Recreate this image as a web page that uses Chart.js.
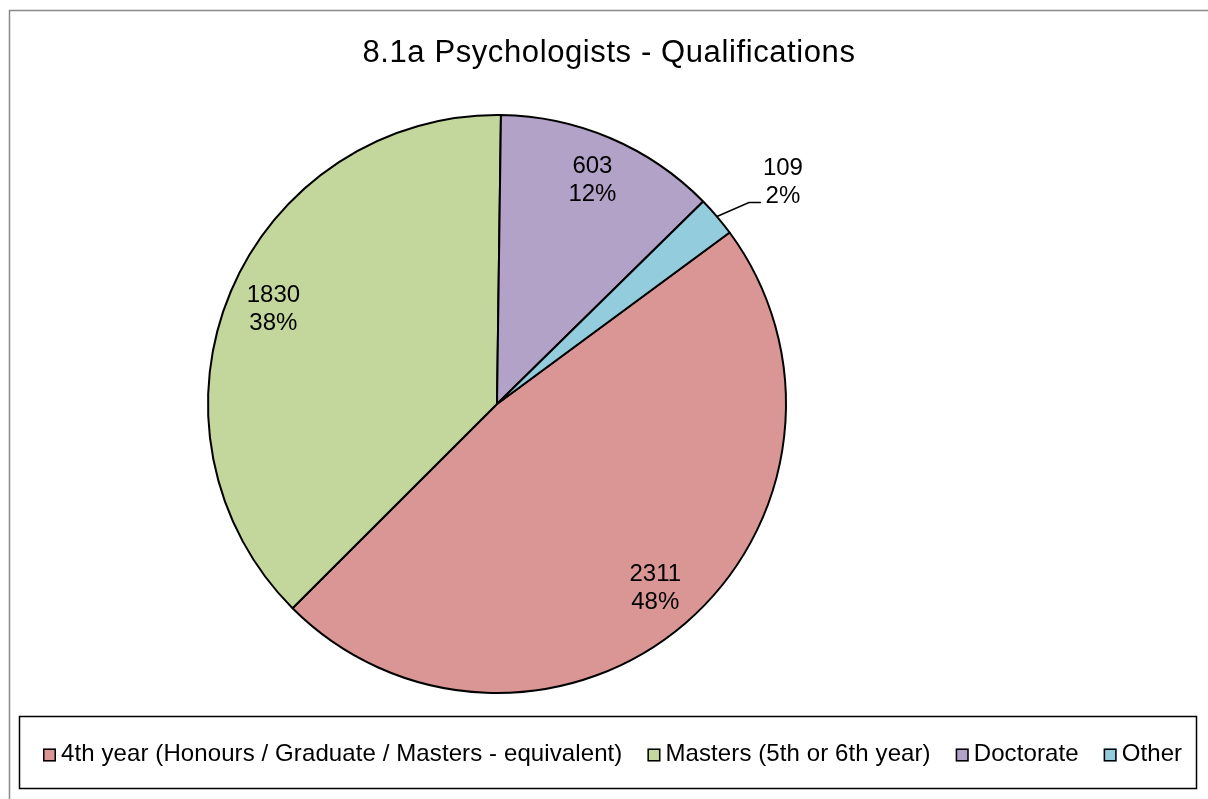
<!DOCTYPE html>
<html lang="en">
<head>
    <meta charset="UTF-8">
    <title>8.1a Psychologists - Qualifications</title>
    <script src="https://cdn.jsdelivr.net/npm/chart.js"></script>
    <style>
        body {
            margin: 0;
            padding: 0;
            background-color: #fff;
        }
        canvas {
            display: block;
        }
    </style>
</head>
<body>
    <canvas id="qualChart" width="1208" height="799"></canvas>

    <script>
        // Data
        const chartTitle = '8.1a Psychologists - Qualifications';
        const categories = [
            '4th year (Honours / Graduate / Masters - equivalent)',
            'Masters (5th or 6th year)',
            'Doctorate',
            'Other'
        ];
        const counts = [2311, 1830, 603, 109];
        const percentLabels = ['48%', '38%', '12%', '2%'];
        const sliceColors = ['#D99694', '#C3D69B', '#B3A2C7', '#93CDDD'];

        const FONT = 'Arial, "Liberation Sans", sans-serif';

        // Frame, title, slice labels and boxed legend
        const decorations = {
            id: 'decorations',
            beforeDraw(chart) {
                const ctx = chart.ctx;
                ctx.save();
                ctx.fillStyle = '#fff';
                ctx.fillRect(0, 0, chart.width, chart.height);
                ctx.strokeStyle = '#898989';
                ctx.lineWidth = 1.5;
                ctx.strokeRect(9.5, 10.5, chart.width + 20, chart.height + 20);

                ctx.fillStyle = '#000';
                ctx.font = '31px ' + FONT;
                ctx.letterSpacing = '0.6px';
                ctx.textAlign = 'center';
                ctx.textBaseline = 'middle';
                ctx.fillText(chartTitle, 609, 53);
                ctx.restore();
            },
            afterDatasetsDraw(chart) {
                const ctx = chart.ctx;
                const arcs = chart.getDatasetMeta(0).data;
                ctx.save();
                ctx.fillStyle = '#000';
                ctx.font = '24px ' + FONT;
                ctx.textAlign = 'center';
                ctx.textBaseline = 'middle';
                arcs.forEach((arc, i) => {
                    const p = arc.getProps(['x', 'y', 'startAngle', 'endAngle', 'outerRadius'], true);
                    const mid = (p.startAngle + p.endAngle) / 2;
                    const cos = Math.cos(mid), sin = Math.sin(mid);
                    if (i === 3) {
                        // small slice: label outside with a leader line
                        const ex = p.x + cos * p.outerRadius;
                        const ey = p.y + sin * p.outerRadius;
                        const kx = ex + 32, ky = ey - 14;
                        ctx.strokeStyle = '#000';
                        ctx.lineWidth = 1.5;
                        ctx.beginPath();
                        ctx.moveTo(ex, ey);
                        ctx.lineTo(kx, ky);
                        ctx.lineTo(kx + 12, ky);
                        ctx.stroke();
                        ctx.fillText(String(counts[i]), kx + 34, ky - 34);
                        ctx.fillText(percentLabels[i], kx + 34, ky - 6);
                    } else {
                        const r = p.outerRadius * 0.84;
                        const cx = p.x + cos * r;
                        const cy = p.y + sin * r;
                        ctx.fillText(String(counts[i]), cx, cy - 14);
                        ctx.fillText(percentLabels[i], cx, cy + 14);
                    }
                });
                ctx.restore();
            },
            afterDraw(chart) {
                const ctx = chart.ctx;
                ctx.save();
                // legend frame
                ctx.strokeStyle = '#000';
                ctx.lineWidth = 1.5;
                ctx.strokeRect(19.5, 716.5, 1177, 72);

                ctx.font = '24px ' + FONT;
                ctx.letterSpacing = '0.1px';
                ctx.textBaseline = 'middle';
                ctx.textAlign = 'left';
                const box = 13, gapText = 5, gapItem = 25;
                const widths = categories.map(t => box + gapText + ctx.measureText(t).width);
                const total = widths.reduce((a, b) => a + b, 0) + gapItem * (categories.length - 1);
                let x = Math.round(612.5 - total / 2);
                const y = 754;
                categories.forEach((label, i) => {
                    ctx.fillStyle = sliceColors[i];
                    ctx.fillRect(x, y - box / 2 + 1, box, box);
                    ctx.strokeStyle = '#000';
                    ctx.lineWidth = 1.5;
                    ctx.strokeRect(x + 0.75, y - box / 2 + 1.75, box - 1.5, box - 1.5);
                    ctx.fillStyle = '#000';
                    ctx.fillText(label, x + box + gapText, y);
                    x += widths[i] + gapItem;
                });
                ctx.restore();
            }
        };

        new Chart(document.getElementById('qualChart').getContext('2d'), {
            type: 'pie',
            data: {
                labels: categories,
                datasets: [{
                    data: counts,
                    backgroundColor: sliceColors,
                    borderColor: '#000',
                    borderWidth: 2
                }]
            },
            options: {
                responsive: false,
                animation: false,
                rotation: 53.6,
                layout: {
                    padding: { left: 0, right: 214, top: 114, bottom: 105 }
                },
                plugins: {
                    legend: { display: false },
                    title: { display: false },
                    tooltip: { enabled: false }
                }
            },
            plugins: [decorations]
        });
    </script>
</body>
</html>
